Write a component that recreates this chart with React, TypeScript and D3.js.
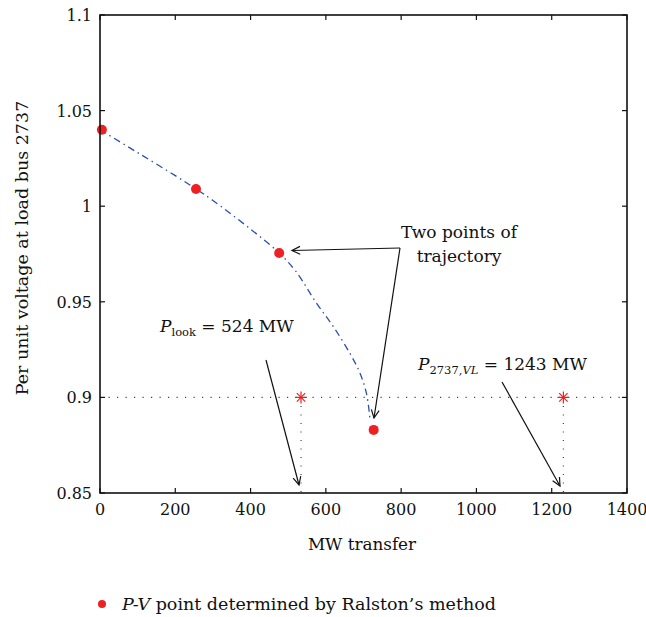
import React from "react";
import * as d3 from "d3";

const trajX = [0, 100, 200, 255, 300, 400, 476, 520, 576, 620, 664, 690, 708, 717];
const trajY = [1.04, 1.028, 1.016, 1.009, 1.003, 0.988, 0.9755, 0.966, 0.949, 0.937, 0.923, 0.913, 0.902, 0.889];
const ralstonX = [5, 255, 476, 727];
const ralstonY = [1.04, 1.009, 0.9755, 0.883];
const starX = [534, 1231];
const starY = 0.9;
const xTicks = [0, 200, 400, 600, 800, 1000, 1200, 1400];
const yTicks = [0.85, 0.9, 0.95, 1, 1.05, 1.1];

const W = 646, H = 617;
const FONT = "DejaVu Serif";

function arrowHead(x1: number, y1: number, x2: number, y2: number, len = 9, ang = 0.45) {
  const a = Math.atan2(y2 - y1, x2 - x1);
  const p1 = [x2 - len * Math.cos(a - ang), y2 - len * Math.sin(a - ang)];
  const p2 = [x2 - len * Math.cos(a + ang), y2 - len * Math.sin(a + ang)];
  return `M${p1[0]},${p1[1]}L${x2},${y2}L${p2[0]},${p2[1]}`;
}

export default function App() {
  const x = d3.scaleLinear().domain([0, 1400]).range([100, 627]);
  const y = d3.scaleLinear().domain([0.85, 1.1]).range([493, 15]);
  const line = d3
    .line<number>()
    .x((_, i) => x(trajX[i]))
    .y((d) => y(d))
    .curve(d3.curveCatmullRom);

  const arrows: [number, number, number, number][] = [
    [400, 248, 292, 250.5],
    [400, 248, 374, 418],
    [266, 360, 299, 485],
    [502, 382, 560, 486],
  ];

  return (
    <svg width={W} height={H} style={{ position: "absolute", left: 0, top: 0 }} fontFamily={FONT}>
      <rect width={W} height={H} fill="#fff" />
      <line x1={x(0)} x2={x(1400)} y1={y(starY)} y2={y(starY)} stroke="#444" strokeWidth={1.2} strokeDasharray="1.2,7.3" />
      {starX.map((s, i) => (
        <line key={"v" + i} x1={x(s)} x2={x(s)} y1={y(starY)} y2={y(0.85)} stroke="#444" strokeWidth={1.2} strokeDasharray="1.2,7.3" />
      ))}
      <path d={line(trajY) || ""} fill="none" stroke="#2a4fb0" strokeWidth={1.3} strokeDasharray="7,4,1.5,4" />
      {ralstonX.map((v, i) => (
        <circle key={"p" + i} cx={x(v)} cy={y(ralstonY[i])} r={5} fill="#ee2024" />
      ))}
      {starX.map((s, i) => {
        const cx = x(s), cy = y(starY), r = 6;
        return (
          <g key={"s" + i} stroke="#ee2024" strokeWidth={1.2}>
            <line x1={cx - r} x2={cx + r} y1={cy} y2={cy} />
            <line x1={cx} x2={cx} y1={cy - r} y2={cy + r} />
            <line x1={cx - r * 0.7} x2={cx + r * 0.7} y1={cy - r * 0.7} y2={cy + r * 0.7} />
            <line x1={cx - r * 0.7} x2={cx + r * 0.7} y1={cy + r * 0.7} y2={cy - r * 0.7} />
          </g>
        );
      })}
      {arrows.map(([a, b, c, d], i) => (
        <g key={"a" + i} stroke="#111" strokeWidth={1.2} fill="none">
          <line x1={a} y1={b} x2={c} y2={d} />
          <path d={arrowHead(a, b, c, d)} />
        </g>
      ))}
      <rect x={x(0)} y={y(1.1)} width={x(1400) - x(0)} height={y(0.85) - y(1.1)} fill="none" stroke="#111" strokeWidth={1.6} />
      {xTicks.map((t) => (
        <g key={"xt" + t}>
          <line x1={x(t)} x2={x(t)} y1={y(0.85)} y2={y(0.85) - 5} stroke="#111" strokeWidth={1.2} />
          <line x1={x(t)} x2={x(t)} y1={y(1.1)} y2={y(1.1) + 5} stroke="#111" strokeWidth={1.2} />
          <text x={x(t)} y={515} textAnchor="middle" fontSize={16} fill="#111">{t}</text>
        </g>
      ))}
      {yTicks.map((t) => (
        <g key={"yt" + t}>
          <line x1={x(0)} x2={x(0) + 5} y1={y(t)} y2={y(t)} stroke="#111" strokeWidth={1.2} />
          <line x1={x(1400)} x2={x(1400) - 5} y1={y(t)} y2={y(t)} stroke="#111" strokeWidth={1.2} />
          <text x={92} y={y(t) + 6} textAnchor="end" fontSize={16} fill="#111">{String(t)}</text>
        </g>
      ))}
      <text x={362} y={550} textAnchor="middle" fontSize={16.8} fill="#111">MW transfer</text>
      <text transform="translate(28,248) rotate(-90)" textAnchor="middle" fontSize={17.5} fill="#111">Per unit voltage at load bus 2737</text>
      <text x={459} y={238} textAnchor="middle" fontSize={17} fill="#111">Two points of</text>
      <text x={459} y={262} textAnchor="middle" fontSize={17} fill="#111">trajectory</text>
      <text x={160} y={332} fontSize={17} fill="#111">
        <tspan fontStyle="italic">P</tspan>
        <tspan fontSize={11.5} dy={4}>look</tspan>
        <tspan dy={-4}> = 524 MW</tspan>
      </text>
      <text x={418} y={370} fontSize={17} fill="#111">
        <tspan fontStyle="italic">P</tspan>
        <tspan fontSize={11.5} dy={4}>2737,</tspan>
        <tspan fontSize={11.5} fontStyle="italic">VL</tspan>
        <tspan dy={-4}> = 1243 MW</tspan>
      </text>
      <circle cx={102} cy={604} r={4} fill="#ee2024" />
      <text x={122} y={610} fontSize={17.5} fill="#111">
        <tspan fontStyle="italic">P-V</tspan>
        <tspan> point determined by Ralston’s method</tspan>
      </text>
    </svg>
  );
}
